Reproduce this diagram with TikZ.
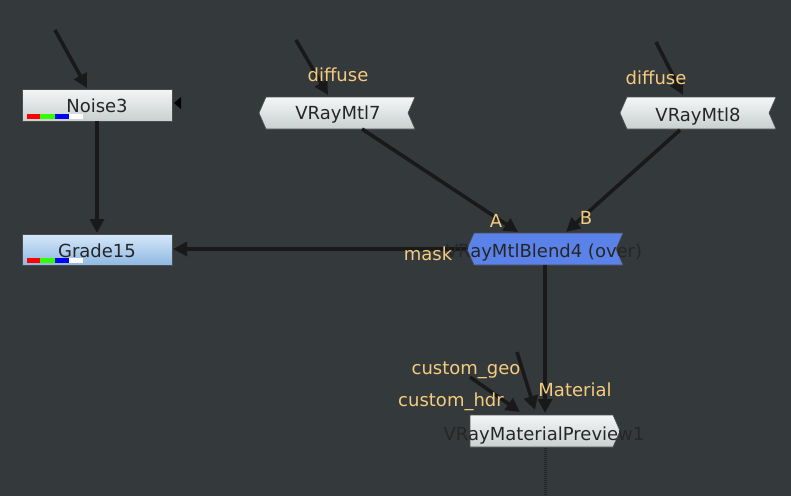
\documentclass[tikz,border=0pt]{standalone}
\usepackage{fontspec}
\setmainfont{DejaVu Sans}
\usetikzlibrary{arrows.meta}
\definecolor{bg}{HTML}{343A3C}
\definecolor{lab}{HTML}{F5CB7E}
\definecolor{nodetop}{HTML}{F4F6F6}
\definecolor{nodebot}{HTML}{C8D0D0}
\definecolor{bluetop}{HTML}{D6E8FA}
\definecolor{bluebot}{HTML}{8FB8E2}
\definecolor{blendc}{HTML}{5B82E8}
\tikzset{
 x=1pt,y=-1pt,
 edge/.style={line width=3.6pt,draw=black!90,-{Triangle[length=14pt,width=14pt]}},
 lbl/.style={text=lab,font=\fontsize{18}{18}\selectfont,inner sep=0pt},
 ntext/.style={text=black!85,font=\fontsize{18}{18}\selectfont,inner sep=0pt},
 gbox/.style={draw=black!70,line width=0.6pt,top color=nodetop,bottom color=nodebot},
}
\begin{document}
\begin{tikzpicture}
\fill[bg] (0,0) rectangle (791,496);
\useasboundingbox (0,0) rectangle (791,496);
% Noise3
\path[gbox] (22,89) rectangle (172,121);
\fill[red] (27,114) rectangle (40,119);\fill[green!80!yellow] (40,114) rectangle (55,119);
\fill[blue] (55,114) rectangle (69,119);\fill[white] (69,114) rectangle (83,119);
\node[ntext] (noise) at (97,106) {Noise3};
\fill[black] (174,103) -- (181,97) -- (181,109) -- cycle;
\coordinate (noiseB) at (97,121);\coordinate (noiseT) at (87,88);\coordinate (in1) at (55,30);
% Grade15
\path[draw=black!70,line width=0.6pt,top color=bluetop,bottom color=bluebot] (22,234) rectangle (172,265);
\fill[red] (27,258) rectangle (40,263);\fill[green!80!yellow] (40,258) rectangle (55,263);
\fill[blue] (55,258) rectangle (69,263);\fill[white] (69,258) rectangle (83,263);
\node[ntext] (grade) at (97,251) {Grade15};
\coordinate (gradeT) at (97,233);\coordinate (gradeR) at (173,249);
% VRayMtl7
\path[gbox] (266,97) -- (415,97) -- (408,113) -- (415,129) -- (266,129) -- (259,113) -- cycle;
\node[ntext] (m7) at (338,115) {VRayMtl7};
\coordinate (m7B) at (362,129);\coordinate (m7T) at (328,95);\coordinate (in7) at (296,40);
% VRayMtl8
\path[gbox] (627,97) -- (776,97) -- (769,113) -- (776,129) -- (627,129) -- (620,113) -- cycle;
\node[ntext] (m8) at (698,117) {VRayMtl8};
\coordinate (m8B) at (680,130);\coordinate (m8T) at (683,95);\coordinate (in8) at (656,42);
% Blend
\path[draw=black!70,line width=0.6pt,fill=blendc] (474,233) -- (623,233) -- (616,249) -- (623,265) -- (474,265) -- (467,249) -- cycle;
\coordinate (blA) at (518,232);\coordinate (blB) at (566,232);\coordinate (blL) at (466,249);\coordinate (blBot) at (545,265);
% Preview
\path[gbox] (470,415) -- (613,415) -- (620,431) -- (613,447) -- (470,447) -- cycle;
\coordinate (pvT) at (545,413);
\coordinate (geoS) at (517,352);\coordinate (geoE) at (535,410);
\coordinate (hdrS) at (470,377);\coordinate (hdrE) at (520,412);
\draw[black!85,line width=3pt,dash pattern=on 1pt off 1pt] (545,448) -- (545,496);
% edges
\draw[edge] (in1) -- (noiseT);
\draw[edge] (noiseB) -- (gradeT);
\draw[edge] (blL) -- (gradeR);
\draw[edge] (in7) -- (m7T);
\draw[edge] (in8) -- (m8T);
\draw[edge] (m7B) -- (blA);
\draw[edge] (m8B) -- (blB);
\draw[edge] (blBot) -- (pvT);
\draw[edge] (geoS) -- (geoE);
\draw[edge] (hdrS) -- (hdrE);
% texts
\node[ntext] (blt) at (544,253) {VRayMtlBlend4 (over)};
\node[ntext] (pvt) at (544,436) {VRayMaterialPreview1};
\node[lbl] (l1) at (338,75) {diffuse};
\node[lbl] (l2) at (656,78) {diffuse};
\node[lbl] (lA) at (496,221) {A};
\node[lbl] (lB) at (586,218) {B};
\node[lbl] (lm) at (428,254) {mask};
\node[lbl] (lg) at (466,370) {custom\_geo};
\node[lbl] (lh) at (451,402) {custom\_hdr};
\node[lbl] (lmat) at (575,390) {Material};
\end{tikzpicture}
\end{document}
